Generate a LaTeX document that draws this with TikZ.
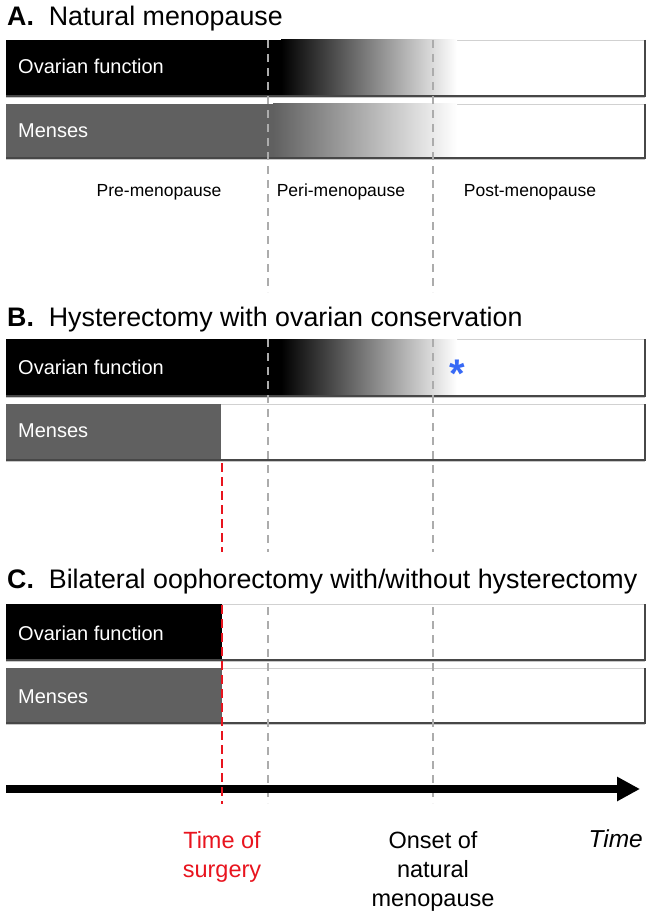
\documentclass[tikz,border=0pt]{standalone}
\usepackage{fontspec}
\setmainfont{Liberation Sans}
\usetikzlibrary{arrows.meta}
\definecolor{mgray}{RGB}{96,96,96}
\definecolor{dgray}{RGB}{172,172,172}
\definecolor{sred}{RGB}{232,20,30}
\definecolor{sblue}{RGB}{55,105,245}
\newcommand{\mybartop}[1]{\draw[bartop] (6,#1) -- (645,#1);}
\newcommand{\mybarframe}[2]{%
  \draw[baredge] (645,#1) -- (645,#2) -- (6,#2);
  \draw[barshadow] (6,#2+1.6) -- (645,#2+1.6);}
\begin{document}
\begin{tikzpicture}[x=1pt,y=-1pt,
  bartop/.style={draw=black!18,line width=0.8pt},
  baredge/.style={draw=black!72,line width=1.1pt,line join=miter},
  barshadow/.style={draw=black!22,line width=0.8pt},
  guide/.style={draw=dgray,line width=1.4pt,dash pattern=on 8pt off 6pt},
  surg/.style={draw=sred,line width=1.9pt,dash pattern=on 9pt off 5pt},
  paneltitle/.style={anchor=base west,inner sep=0pt,font=\fontsize{26.8}{30}\selectfont},
  barlabel/.style={anchor=base west,inner sep=0pt,text=white,font=\fontsize{20}{24}\selectfont},
  phase/.style={anchor=base,inner sep=0pt,font=\fontsize{17.5}{21}\selectfont},
  bottomlabel/.style={anchor=north,inner sep=0pt,align=center,font=\fontsize{23.5}{29}\selectfont}]
\useasboundingbox (0,0) rectangle (649,915);

% ---------- Panel A ----------
\node[paneltitle] (tA) at (7,26) {\textbf{A.}\ \ Natural menopause};
\mybartop{40}
\fill[black] (6,40) rectangle (281.5,96);
\shade[left color=black,right color=white] (281,40) rectangle (457,96);
\mybarframe{40}{96}
\mybartop{104}
\fill[mgray] (6,104) rectangle (273.5,158);
\shade[left color=mgray,right color=white] (273,104) rectangle (457,158);
\mybarframe{104}{158}
\node[barlabel] (ofA) at (18,74) {Ovarian function};
\node[barlabel] (mA) at (18,137) {Menses};
\coordinate (gA1t) at (268,40); \coordinate (gA1b) at (268,292);
\coordinate (gA2t) at (433,40); \coordinate (gA2b) at (433,292);
\draw[guide] (gA1t) -- (gA1b);
\draw[guide] (gA2t) -- (gA2b);
\node[phase] (pre) at (159,196) {Pre-menopause};
\node[phase] (peri) at (341,196) {Peri-menopause};
\node[phase] (post) at (530,196) {Post-menopause};

% ---------- Panel B ----------
\node[paneltitle] (tB) at (7,326) {\textbf{B.}\ \ Hysterectomy with ovarian conservation};
\mybartop{339}
\fill[black] (6,339) rectangle (281.5,396);
\shade[left color=black,right color=white] (281,339) rectangle (457,396);
\mybarframe{339}{396}
\mybartop{404}
\fill[mgray] (6,404) rectangle (221,460);
\mybarframe{404}{460}
\node[barlabel] (ofB) at (18,374) {Ovarian function};
\node[barlabel] (mB) at (18,437) {Menses};
\node[anchor=base,inner sep=0pt,text=sblue,font=\fontsize{40}{40}\selectfont\bfseries] (ast) at (457,387) {*};
\coordinate (gB1t) at (268,339); \coordinate (gB1b) at (268,552);
\coordinate (gB2t) at (433,339); \coordinate (gB2b) at (433,552);
\draw[guide] (gB1t) -- (gB1b);
\draw[guide] (gB2t) -- (gB2b);
\coordinate (rBt) at (222,463); \coordinate (rBb) at (222,552);
\draw[surg] (rBt) -- (rBb);

% ---------- Panel C ----------
\node[paneltitle] (tC) at (7,588) {\textbf{C.}\ \ Bilateral oophorectomy with/without hysterectomy};
\mybartop{604}
\fill[black] (6,604) rectangle (222,660);
\mybarframe{604}{660}
\mybartop{668}
\fill[mgray] (6,668) rectangle (222,723);
\mybarframe{668}{723}
\node[barlabel] (ofC) at (18,640) {Ovarian function};
\node[barlabel] (mC) at (18,703) {Menses};
\coordinate (gC1t) at (268,607); \coordinate (gC1b) at (268,803);
\coordinate (gC2t) at (433,607); \coordinate (gC2b) at (433,803);
\draw[guide] (gC1t) -- (gC1b);
\draw[guide] (gC2t) -- (gC2b);

% ---------- Time axis ----------
\coordinate (axL) at (6,789); \coordinate (axR) at (640,789);
\draw[line width=7.5pt,-{Triangle[length=23pt,width=23pt]}] (axL) -- (axR);
\coordinate (rCt) at (222,605); \coordinate (rCb) at (222,804);
\draw[surg] (rCt) -- (rCb);

\node[bottomlabel,text=sred] (surgery) at (222,831) {Time of\\surgery};
\node[bottomlabel] (onset) at (433,831) {Onset of\\natural\\menopause};
\node[anchor=north east,inner sep=0pt,font=\fontsize{24.5}{29}\selectfont\itshape] (time) at (643,830) {Time};
\end{tikzpicture}
\end{document}
